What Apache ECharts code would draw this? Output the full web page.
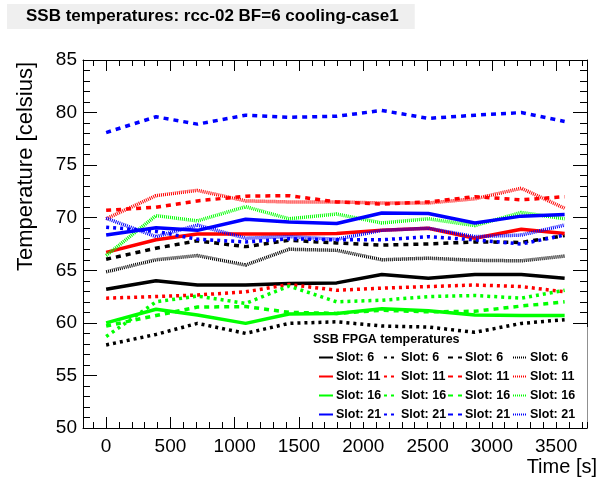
<!DOCTYPE html>
<html>
<head>
<meta charset="utf-8">
<script src="https://cdn.jsdelivr.net/npm/echarts@6/dist/echarts.min.js"></script>
<style>
  html, body { margin: 0; background: #fff; }
  #chart { width: 602px; height: 482px; }
</style>
</head>
<body>
<div id="chart"></div>
<script>
// time stamps [s]
const times = [0, 388, 710, 1085, 1422, 1793, 2144, 2506, 2868, 3229, 3566];

// FPGA temperatures per slot, one array per line style
const slot6_solid    = [63.2, 64.0, 63.6, 63.6, 63.75, 63.8, 64.6, 64.25, 64.6, 64.6, 64.25];
const slot6_dashdot  = [57.9, 58.9, 59.95, 59.0, 59.95, 60.1, 59.7, 59.6, 59.1, 59.95, 60.3];
const slot6_dashed   = [66.05, 67.1, 67.8, 67.25, 67.85, 67.6, 67.4, 67.5, 67.7, 67.65, 68.3];
const slot6_dotted   = [64.85, 66.0, 66.4, 65.5, 67.0, 66.9, 66.0, 66.15, 65.95, 65.9, 66.35];
const slot11_solid   = [66.7, 67.9, 68.45, 68.45, 68.45, 68.5, 68.8, 69.0, 68.05, 68.9, 68.5];
const slot11_dashdot = [62.35, 62.5, 62.65, 62.95, 63.65, 63.1, 63.3, 63.45, 63.6, 63.45, 62.95];
const slot11_dashed  = [70.7, 71.0, 71.6, 72.05, 72.1, 71.5, 71.3, 71.5, 72.0, 71.7, 72.0];
const slot11_dotted  = [69.9, 72.1, 72.6, 71.6, 71.5, 71.5, 71.4, 71.4, 71.8, 72.8, 70.9];
const slot16_solid   = [60.0, 61.3, 60.75, 59.95, 60.85, 60.9, 61.35, 61.15, 60.75, 60.7, 60.7];
const slot16_dashdot = [58.7, 62.0, 62.55, 61.85, 63.5, 62.0, 62.15, 62.5, 62.6, 62.35, 63.1];
const slot16_dashed  = [59.7, 60.7, 61.5, 61.55, 61.0, 60.9, 61.2, 61.05, 61.1, 61.6, 62.0];
const slot16_dotted  = [66.4, 70.2, 69.7, 71.05, 69.9, 70.35, 69.5, 69.9, 69.25, 70.5, 69.9];
const slot21_solid   = [68.35, 69.05, 68.8, 69.85, 69.6, 69.45, 70.45, 70.4, 69.5, 70.15, 70.3];
const slot21_dashdot = [69.1, 68.7, 67.95, 67.7, 68.0, 67.9, 67.9, 68.2, 67.9, 67.5, 68.35];
const slot21_dashed  = [78.1, 79.6, 78.9, 79.75, 79.55, 79.65, 80.2, 79.45, 79.75, 80.0, 79.15];
const slot21_dotted  = [69.95, 68.2, 69.3, 68.05, 68.2, 67.95, 68.8, 69.0, 68.2, 68.35, 69.3];

const slots = ['6', '11', '16', '21'];
const xTicks = [0, 500, 1000, 1500, 2000, 2500, 3000, 3500];
const xMinorTicks = [-100, 0, 100, 200, 300, 400, 500, 600, 700, 800, 900, 1000, 1100, 1200, 1300, 1400, 1500, 1600, 1700, 1800, 1900, 2000, 2100, 2200, 2300, 2400, 2500, 2600, 2700, 2800, 2900, 3000, 3100, 3200, 3300, 3400, 3500, 3600, 3700];

const slotColor = { '6': '#000000', '11': '#ff0000', '16': '#00ff00', '21': '#0000ff' };
const styles = ['solid', 'dashdot', 'dashed', 'dotted'];
const dashOf = { solid: 'solid', dashdot: [3, 4], dashed: [5, 5], dotted: [1, 1] };
const values = {
  '6':  { solid: slot6_solid,  dashdot: slot6_dashdot,  dashed: slot6_dashed,  dotted: slot6_dotted },
  '11': { solid: slot11_solid, dashdot: slot11_dashdot, dashed: slot11_dashed, dotted: slot11_dotted },
  '16': { solid: slot16_solid, dashdot: slot16_dashdot, dashed: slot16_dashed, dotted: slot16_dotted },
  '21': { solid: slot21_solid, dashdot: slot21_dashdot, dashed: slot21_dashed, dotted: slot21_dotted }
};

const FONT = '"Liberation Sans", Arial, sans-serif';

const series = [];
slots.forEach(s => {
  styles.forEach(st => {
    series.push({
      name: s + '_' + st,
      type: 'line',
      xAxisIndex: 0,
      yAxisIndex: 0,
      symbol: 'none',
      animation: false,
      lineStyle: { color: slotColor[s], width: 3.5, type: dashOf[st] },
      itemStyle: { color: slotColor[s] },
      data: times.map((t, i) => [t, values[s][st][i]])
    });
  });
});

// one legend per line-style column
const legendLeft = [318, 383, 447, 512];
const legends = styles.map((st, k) => ({
  orient: 'vertical',
  left: legendLeft[k],
  top: 351,
  padding: 0,
  itemWidth: 14,
  itemHeight: 10,
  itemGap: 6,
  selectedMode: false,
  itemStyle: { opacity: 0 },
  textStyle: { fontFamily: FONT, fontWeight: 'bold', fontSize: 12.5, color: '#000', padding: [0, 0, 0, -2] },
  formatter: name => 'Slot: ' + name.split('_')[0],
  data: slots.map(s => s + '_' + st)
}));

const xBase = { type: 'value', min: -180, max: 3740, gridIndex: 0, splitLine: { show: false } };
const yBase = { type: 'value', min: 50, max: 85, interval: 5, splitLine: { show: false } };

const option = {
  backgroundColor: '#fff',
  animation: false,
  title: [
    {
      text: 'SSB temperatures: rcc-02 BF=6 cooling-case1',
      left: 7, top: 4,
      padding: [4, 16, 4, 19],
      backgroundColor: '#efefef',
      textStyle: { fontFamily: FONT, fontWeight: 'bold', fontSize: 17, color: '#000' }
    },
    {
      // legend header, its white box hides the lines behind the legend
      text: 'SSB FPGA temperatures',
      left: 305, top: 327,
      z: 3,
      padding: [6, 128, 76, 8],
      backgroundColor: '#ffffff',
      textStyle: { fontFamily: FONT, fontWeight: 'bold', fontSize: 12.5, color: '#000' }
    }
  ],
  grid: { left: 83, right: 15, top: 60, bottom: 54 },
  legend: legends,
  xAxis: [
    Object.assign({}, xBase, {
      position: 'bottom',
      axisLine: { show: true, onZero: false, lineStyle: { color: '#000', width: 1 } },
      axisTick: { show: true, inside: true, length: 11, customValues: xTicks, lineStyle: { color: '#000' } },
      axisLabel: { show: true, customValues: xTicks, margin: 9, color: '#000', fontFamily: FONT, fontSize: 19,
                   formatter: v => String(v) }
    }),
    Object.assign({}, xBase, {
      position: 'bottom',
      axisLine: { show: false, onZero: false },
      axisTick: { show: true, inside: true, length: 6, customValues: xMinorTicks, lineStyle: { color: '#000' } },
      axisLabel: { show: false }
    }),
    Object.assign({}, xBase, {
      position: 'top',
      axisLine: { show: true, onZero: false, lineStyle: { color: '#000', width: 1 } },
      axisTick: { show: true, inside: true, length: 11, customValues: xTicks, lineStyle: { color: '#000' } },
      axisLabel: { show: false }
    }),
    Object.assign({}, xBase, {
      position: 'top',
      axisLine: { show: false, onZero: false },
      axisTick: { show: true, inside: true, length: 6, customValues: xMinorTicks, lineStyle: { color: '#000' } },
      axisLabel: { show: false }
    })
  ],
  yAxis: [
    Object.assign({}, yBase, {
      position: 'left',
      axisLine: { show: true, onZero: false, lineStyle: { color: '#000', width: 1 } },
      axisTick: { show: true, inside: true, length: 14, lineStyle: { color: '#000' } },
      minorTick: { show: true, splitNumber: 5, length: 7, lineStyle: { color: '#000' } },
      axisLabel: { show: true, inside: false, margin: 6, color: '#000', fontFamily: FONT, fontSize: 19 }
    }),
    Object.assign({}, yBase, {
      position: 'right',
      axisLine: { show: true, onZero: false, lineStyle: { color: '#000', width: 1 } },
      axisTick: { show: true, inside: true, length: 14, lineStyle: { color: '#000' } },
      minorTick: { show: true, splitNumber: 5, length: 7, lineStyle: { color: '#000' } },
      axisLabel: { show: false }
    })
  ],
  graphic: [
    {
      type: 'text', x: 26, y: 62, rotation: Math.PI / 2,
      style: { text: 'Temperature [celsius]', font: '22px ' + FONT, fill: '#000',
               textAlign: 'right', textVerticalAlign: 'middle', align: 'right', verticalAlign: 'middle' }
    },
    {
      type: 'text', x: 597, y: 467,
      style: { text: 'Time [s]', font: '20px ' + FONT, fill: '#000',
               textAlign: 'right', textVerticalAlign: 'middle', align: 'right', verticalAlign: 'middle' }
    }
  ],
  series: series
};

const myChart = echarts.init(document.getElementById('chart'), null, { renderer: 'canvas' });
myChart.setOption(option);
</script>
</body>
</html>
